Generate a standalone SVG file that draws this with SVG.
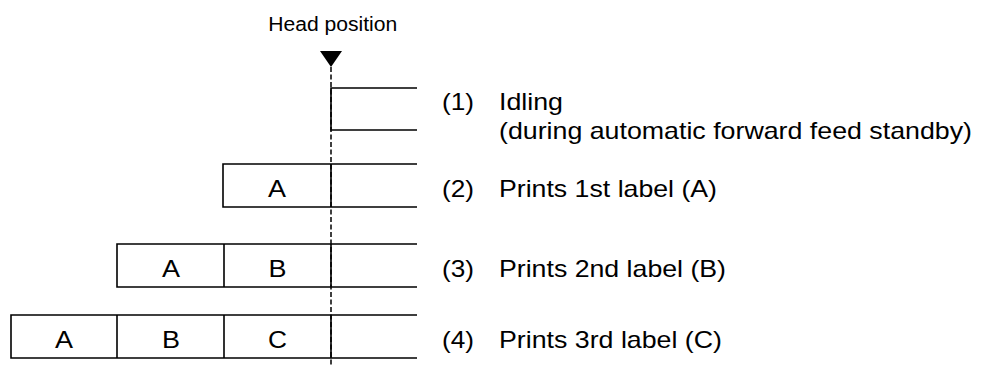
<svg xmlns="http://www.w3.org/2000/svg" width="982" height="365" viewBox="0 0 982 365">
<style>
  .ln { fill: none; stroke: #000; stroke-width: 1.6; }
  .head { fill: none; stroke: #000; stroke-width: 1.5; stroke-dasharray: 5 2.5; }
  .t { font-family: "Liberation Sans", Arial, sans-serif; font-size: 24px; fill: #000; }
  .c { text-anchor: middle; }
  .h { font-family: "Liberation Sans", Arial, sans-serif; font-size: 19.5px; fill: #000; text-anchor: middle; }
</style>
<rect width="982" height="365" fill="#fff"/>

<g id="head-marker">
  <text class="h" x="332.7" y="30.5" textLength="129" lengthAdjust="spacingAndGlyphs">Head position</text>
  <polygon points="320,51 342,51 331,67" fill="#000"/>
</g>

<g id="connectors">
  <line class="head" x1="331" y1="67" x2="331" y2="365"/>
</g>

<g id="row1">
  <path class="ln" d="M417,88 H331 V130 H417"/>
  <text class="t" x="442" y="110" textLength="32" lengthAdjust="spacingAndGlyphs">(1)</text>
  <text class="t" x="499" y="110" textLength="64" lengthAdjust="spacingAndGlyphs">Idling</text>
  <text class="t" x="499" y="139" textLength="473" lengthAdjust="spacingAndGlyphs">(during automatic forward feed standby)</text>
</g>

<g id="row2">
  <path class="ln" d="M417,164 H223 V207 H417 M331,164 V207"/>
  <text class="t c" x="277" y="196.5" textLength="18" lengthAdjust="spacingAndGlyphs">A</text>
  <text class="t" x="442" y="196.5" textLength="32" lengthAdjust="spacingAndGlyphs">(2)</text>
  <text class="t" x="499" y="196.5" textLength="218" lengthAdjust="spacingAndGlyphs">Prints 1st label (A)</text>
</g>

<g id="row3">
  <path class="ln" d="M417,244 H117 V287 H417 M224,244 V287 M331,244 V287"/>
  <text class="t c" x="171" y="276.5" textLength="18" lengthAdjust="spacingAndGlyphs">A</text>
  <text class="t c" x="277.5" y="276.5" textLength="18" lengthAdjust="spacingAndGlyphs">B</text>
  <text class="t" x="442" y="276.5" textLength="32" lengthAdjust="spacingAndGlyphs">(3)</text>
  <text class="t" x="499" y="276.5" textLength="227" lengthAdjust="spacingAndGlyphs">Prints 2nd label (B)</text>
</g>

<g id="row4">
  <path class="ln" d="M417,315 H11 V358 H417 M117,315 V358 M224,315 V358 M331,315 V358"/>
  <text class="t c" x="64" y="348" textLength="18" lengthAdjust="spacingAndGlyphs">A</text>
  <text class="t c" x="171" y="348" textLength="18" lengthAdjust="spacingAndGlyphs">B</text>
  <text class="t c" x="277.5" y="348" textLength="19" lengthAdjust="spacingAndGlyphs">C</text>
  <text class="t" x="442" y="348" textLength="32" lengthAdjust="spacingAndGlyphs">(4)</text>
  <text class="t" x="499" y="348" textLength="223" lengthAdjust="spacingAndGlyphs">Prints 3rd label (C)</text>
</g>
</svg>
